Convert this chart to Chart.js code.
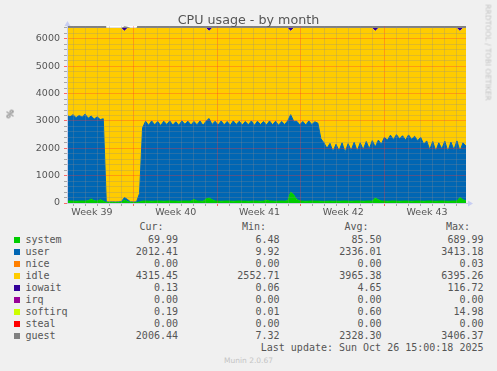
<!DOCTYPE html>
<html>
<head>
<meta charset="utf-8">
<script src="https://cdn.jsdelivr.net/npm/chart.js@4.4.0/dist/chart.umd.min.js"></script>
<style>
html,body{margin:0;padding:0;background:#f0f0f0;}
#wrap{position:relative;width:497px;height:371px;overflow:hidden;background:#f0f0f0;font-family:'DejaVu Sans',sans-serif;}
#c{position:absolute;left:0;top:0;}
.t{position:absolute;white-space:pre;}
.mono{font-family:'DejaVu Sans Mono',monospace;font-size:10px;line-height:12px;color:#555;}
.sw{position:absolute;width:6px;height:6px;}
.r{position:absolute;width:90px;text-align:right;}
</style>
</head>
<body>
<div id="wrap">
<canvas id="c" width="497" height="220"></canvas>
<div class="t" style="left:0;width:497px;top:12px;text-align:center;font-size:12.7px;line-height:15px;color:#555;">CPU usage - by month</div>
<div class="t" style="left:0;top:108px;width:21px;text-align:center;font-size:9.5px;line-height:12px;color:#555;transform:rotate(-90deg);">%</div>
<div class="t" style="left:438px;top:48px;width:100px;text-align:center;font-size:7.5px;line-height:9px;color:#c4c4c4;transform:rotate(90deg);">RRDTOOL / TOBI OETIKER</div>
<div id="legend"></div>
<div class="t" style="left:0;width:497px;top:355.7px;text-align:center;font-size:7.5px;line-height:10px;color:#c4c4c4;">Munin 2.0.67</div>
</div>
<script>
// ---- time base ----
const SPAN_HOURS = 800;
const STEP_HOURS = 800 / 132;

// ---- series values (stacked), one value per 6-hour sample ----
const systemVals = [70,75,70,65,70,75,70,80,150,80,70,120,75,
  20,15,15,15,15,20,110,60,15,15,15,
  40,70,75,70,65,70,75,70,65,70,75,70,70,65,70,75,70,70,130,75,70,65,150,180,120,75,
  70,65,70,75,70,65,70,75,70,70,65,70,75,70,65,70,100,75,70,65,70,75,70,80,400,300,130,75,
  70,65,70,75,70,70,65,60,65,70,65,70,65,70,75,70,65,70,75,70,65,70,75,70,180,120,75,
  70,65,70,75,70,65,70,75,70,65,70,75,70,65,70,75,70,65,70,75,70,65,70,75,70,200,120,70];
const userVals = [3130,3075,3160,3055,3130,3065,3180,3020,3030,2990,3080,2930,3005,
  20,20,25,20,25,25,90,70,25,20,25,
  310,2680,2915,2770,2935,2790,2905,2760,2925,2800,2925,2780,2900,2775,2930,2805,2920,2780,2850,2785,2930,2775,2840,2910,2750,2915,
  2780,2935,2790,2905,2770,2935,2800,2915,2780,2910,2795,2930,2765,2920,2805,2910,2750,2925,2790,2925,2770,2905,2800,2920,2830,2690,2860,2785,
  2910,2785,2930,2795,2900,2850,2285,2140,1935,2110,1815,2080,1835,2130,1775,2100,1855,2150,1825,2130,1885,2180,1905,2210,1870,2180,2075,
  2330,2235,2410,2245,2430,2285,2390,2225,2420,2265,2370,2205,2330,2085,2200,1875,2180,1835,2130,1905,2190,1815,2160,1875,2200,1700,2080,2010];
const idleVals = [3200,3250,3170,3280,3200,3260,3150,3300,3220,3330,3250,3350,3320,
  6360,6365,6360,6365,6360,6355,6090,6270,6360,6365,6360,
  6050,3650,3410,3560,3400,3540,3420,3570,3410,3530,3400,3550,3430,3560,3400,3520,3410,3550,3420,3540,3400,3560,3410,3200,3530,3410,
  3550,3400,3540,3420,3560,3400,3530,3410,3550,3420,3540,3400,3560,3410,3530,3420,3550,3400,3540,3410,3560,3420,3530,3400,3060,3410,3410,3540,
  3420,3550,3400,3530,3430,3480,4050,4200,4400,4220,4520,4250,4500,4200,4550,4230,4480,4180,4500,4200,4450,4150,4420,4120,4240,4100,4250,
  4000,4100,3920,4080,3900,4050,3940,4100,3910,4070,3960,4120,4000,4250,4130,4450,4150,4500,4200,4420,4140,4520,4170,4450,4130,4390,4200,4320];
const iowaitVals = [0,0,0,0,0,0,0,0,0,0,0,0,0,
  0,0,0,0,0,0,110,0,0,0,0,
  0,0,0,0,0,0,0,0,0,0,0,0,0,0,0,0,0,0,0,0,0,0,0,110,0,0,
  0,0,0,0,0,0,0,0,0,0,0,0,0,0,0,0,0,0,0,0,0,0,0,0,110,0,0,0,
  0,0,0,0,0,0,0,0,0,0,0,0,0,0,0,0,0,0,0,0,0,0,0,0,110,0,0,
  0,0,0,0,0,0,0,0,0,0,0,0,0,0,0,0,0,0,0,0,0,0,0,0,0,110,0,0];
const guestVals = [3120,3065,3150,3045,3120,3055,3170,3010,3020,2980,3070,2920,2995,
  0,0,0,0,0,0,60,50,0,0,0,
  300,2670,2905,2760,2925,2780,2895,2750,2915,2790,2915,2770,2890,2765,2920,2795,2910,2770,2840,2775,2920,2765,2830,2900,2740,2905,
  2770,2925,2780,2895,2760,2925,2790,2905,2770,2900,2785,2920,2755,2910,2795,2900,2740,2915,2780,2915,2760,2895,2790,2910,2820,2680,2850,2775,
  2900,2775,2920,2785,2890,2840,2275,2130,1925,2100,1805,2070,1825,2120,1765,2090,1845,2140,1815,2120,1875,2170,1895,2200,1860,2170,2065,
  2320,2225,2400,2235,2420,2275,2380,2215,2410,2255,2360,2195,2320,2075,2190,1865,2170,1825,2120,1895,2180,1805,2150,1865,2190,1690,2070,2005];

// ---- axis ticks / labels ----
const yTickLabels = [0,1000,2000,3000,4000,5000,6000];
const yMinorStep = 200;
const yTopTick = 6400;
const yMax = 6473;
const weekLabels = ['Week 39','Week 40','Week 41','Week 42','Week 43'];
const weekLabelHours = [50,218,386,554,722];
const weekStartHours = [133,301,469,637];
const firstMidnightHour = 13;

// ---- legend table ----
const seriesNames = ['system','user','nice','idle','iowait','irq','softirq','steal','guest'];
const seriesColors = ['#00CC00','#0066B3','#FF8000','#FFCC00','#330099','#990099','#CCFF00','#FF0000','#808080'];
const curVals = ['69.99','2012.41','0.00','4315.45','0.13','0.00','0.19','0.00','2006.44'];
const minVals = ['6.48','9.92','0.00','2552.71','0.06','0.00','0.01','0.00','7.32'];
const avgVals = ['85.50','2336.01','0.00','3965.38','4.65','0.00','0.60','0.00','2328.30'];
const maxVals = ['689.99','3413.18','0.03','6395.26','116.72','0.00','14.98','0.00','3406.37'];
const lastUpdate = 'Last update: Sun Oct 26 15:00:18 2025';

const hours = systemVals.map((_, i) => i * STEP_HOURS);

function ds(label, vals, color, fill, bw) {
  return {
    label, data: hours.map((h, i) => ({x: h, y: vals[i]})),
    backgroundColor: color, borderColor: color, borderWidth: bw,
    pointRadius: 0, pointHoverRadius: 0, fill, tension: 0
  };
}

const MINOR = 'rgba(140,140,140,0.28)';
const MAJOR = 'rgba(255,50,50,0.32)';
const MINOR_T = 'rgba(150,150,150,0.8)';
const MAJOR_T = 'rgba(255,70,70,0.8)';

const xTicks = [];
for (let h = firstMidnightHour; h < SPAN_HOURS; h += 24) xTicks.push(h);
weekLabelHours.forEach(h => xTicks.push(h));
xTicks.sort((a, b) => a - b);

const decor = {
  id: 'decor',
  beforeDatasetsDraw(chart) {
    const a = chart.chartArea, c = chart.ctx;
    c.save(); c.fillStyle = '#ffffff';
    c.fillRect(a.left, a.top, a.right - a.left, a.bottom - a.top);
    c.restore();
  },
  afterDraw(chart) {
    const a = chart.chartArea, c = chart.ctx;
    c.save();
    c.strokeStyle = '#c8cce6'; c.lineWidth = 1;
    c.beginPath();
    c.moveTo(a.left + 0.5, a.bottom); c.lineTo(a.left + 0.5, a.top - 1);
    c.moveTo(a.left, a.bottom + 0.5); c.lineTo(a.right + 4, a.bottom + 0.5);
    c.stroke();
    c.fillStyle = '#c8cef2';
    c.beginPath();
    c.moveTo(a.left + 0.5, a.top - 5); c.lineTo(a.left - 2.5, a.top); c.lineTo(a.left + 3.5, a.top); c.closePath(); c.fill();
    c.beginPath();
    c.moveTo(a.right + 7, a.bottom + 0.5); c.lineTo(a.right + 2, a.bottom - 2.5); c.lineTo(a.right + 2, a.bottom + 3.5); c.closePath(); c.fill();
    c.restore();
  }
};

Chart.defaults.font.family = "'DejaVu Sans', sans-serif";

new Chart(document.getElementById('c'), {
  type: 'line',
  data: {
    datasets: [
      ds('system', systemVals, seriesColors[0], 'origin', 1),
      ds('user', userVals, seriesColors[1], '-1', 1),
      ds('idle', idleVals, seriesColors[3], '-1', 0),
      ds('iowait', iowaitVals, seriesColors[4], '-1', 0),
      ds('guest', guestVals, seriesColors[8], '-1', 0)
    ]
  },
  options: {
    responsive: false,
    animation: false,
    events: [],
    layout: {padding: {left: 0, right: 31, top: 26, bottom: 0}},
    plugins: {legend: {display: false}, title: {display: false}, tooltip: {enabled: false}},
    scales: {
      x: {
        type: 'linear', min: 0, max: SPAN_HOURS,
        afterBuildTicks: s => { s.ticks = xTicks.map(v => ({value: v})); },
        afterFit: s => { s.height = 17; },
        ticks: {
          autoSkip: false, maxRotation: 0, minRotation: 0, padding: 1,
          color: '#555', font: {size: 9.5},
          callback: v => { const k = weekLabelHours.indexOf(v); return k >= 0 ? weekLabels[k] : ''; }
        },
        grid: {
          z: 1, tickLength: 3,
          color: c => weekLabelHours.includes(c.tick.value) ? 'rgba(0,0,0,0)' : (weekStartHours.includes(c.tick.value) ? MAJOR : MINOR),
          tickColor: c => weekLabelHours.includes(c.tick.value) ? 'rgba(0,0,0,0)' : (weekStartHours.includes(c.tick.value) ? MAJOR_T : MINOR_T)
        },
        border: {display: false}
      },
      y: {
        stacked: true, min: 0, max: yMax,
        afterBuildTicks: s => { const t = []; for (let v = 0; v <= yTopTick; v += yMinorStep) t.push({value: v}); s.ticks = t; },
        afterFit: s => { s.width = 67; },
        ticks: {
          autoSkip: false, padding: 4, color: '#555', font: {size: 9.5},
          callback: v => yTickLabels.includes(v) ? String(v) : ''
        },
        grid: {
          z: 1, tickLength: 3,
          color: c => c.tick.value === 0 ? 'rgba(0,0,0,0)' : (c.tick.value % 1000 === 0 ? MAJOR : MINOR),
          tickColor: c => c.tick.value % 1000 === 0 ? MAJOR_T : MINOR_T
        },
        border: {display: false}
      }
    }
  },
  plugins: [decor]
});

// ---- legend ----
const L = document.getElementById('legend');
function add(html) { L.insertAdjacentHTML('beforeend', html); }
const headTop = 221.2;
const rowTop0 = 233.8;
const colRight = [178, 279.5, 381.5, 483.5];
const headLeft = [139.5, 242, 344.5, 446];
['Cur:', 'Min:', 'Avg:', 'Max:'].forEach((h, j) => add(`<div class="t mono" style="left:${headLeft[j]}px;top:${headTop}px;">${h}</div>`));
seriesNames.forEach((n, k) => {
  const top = rowTop0 + 12 * k;
  add(`<div class="sw" style="left:14px;top:${top + 3.5}px;background:${seriesColors[k]};"></div>`);
  add(`<div class="t mono" style="left:25.5px;top:${top}px;">${n}</div>`);
  [curVals, minVals, avgVals, maxVals].forEach((arr, j) => {
    add(`<div class="t mono r" style="left:${colRight[j] - 90}px;top:${top}px;">${arr[k]}</div>`);
  });
});
add(`<div class="t mono r" style="left:${483.5 - 300}px;width:300px;top:${rowTop0 + 12 * 9}px;">${lastUpdate}</div>`);
</script>
</body>
</html>
